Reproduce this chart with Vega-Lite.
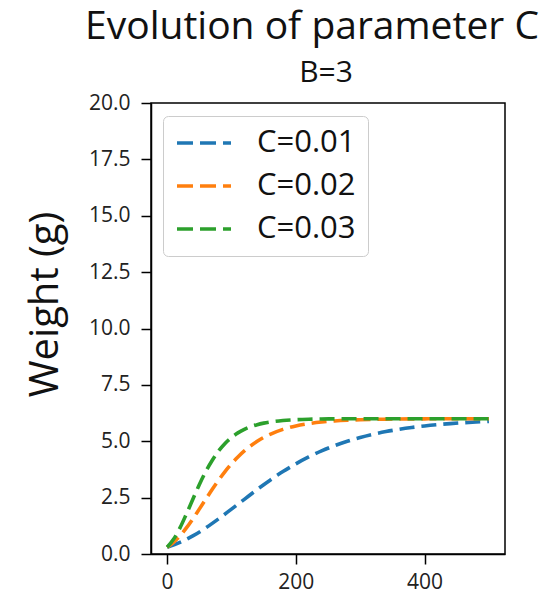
{
  "$schema": "https://vega.github.io/schema/vega-lite/v6.json",
  "background": "white",
  "padding": {"left": 24, "top": 8, "right": 0, "bottom": 0},
  "title": {
    "text": "Evolution of parameter C",
    "font": "Open Sans",
    "fontSize": 39,
    "fontWeight": "normal",
    "color": "#111111",
    "anchor": "middle",
    "frame": "group",
    "baseline": "alphabetic",
    "dx": -16,
    "offset": -21
  },
  "vconcat": [
    {
      "width": 354,
      "height": 451,
      "title": {
        "text": "B=3",
        "font": "Open Sans",
        "fontSize": 30,
        "fontWeight": "normal",
        "color": "#111111",
        "anchor": "middle",
        "frame": "group",
        "baseline": "alphabetic",
        "dx": -2,
        "offset": -20
      },
      "data": {
        "values": [
          {"t": 0, "w": 0.2987, "series": "C=0.01"},
          {"t": 20, "w": 0.5146, "series": "C=0.01"},
          {"t": 40, "w": 0.8032, "series": "C=0.01"},
          {"t": 60, "w": 1.1564, "series": "C=0.01"},
          {"t": 80, "w": 1.5586, "series": "C=0.01"},
          {"t": 100, "w": 1.99, "series": "C=0.01"},
          {"t": 120, "w": 2.4253, "series": "C=0.01"},
          {"t": 140, "w": 2.8633, "series": "C=0.01"},
          {"t": 160, "w": 3.2742, "series": "C=0.01"},
          {"t": 180, "w": 3.6541, "series": "C=0.01"},
          {"t": 200, "w": 3.9978, "series": "C=0.01"},
          {"t": 220, "w": 4.3032, "series": "C=0.01"},
          {"t": 240, "w": 4.5704, "series": "C=0.01"},
          {"t": 260, "w": 4.8015, "series": "C=0.01"},
          {"t": 280, "w": 4.9995, "series": "C=0.01"},
          {"t": 300, "w": 5.1675, "series": "C=0.01"},
          {"t": 320, "w": 5.3094, "series": "C=0.01"},
          {"t": 340, "w": 5.4284, "series": "C=0.01"},
          {"t": 360, "w": 5.5278, "series": "C=0.01"},
          {"t": 380, "w": 5.6105, "series": "C=0.01"},
          {"t": 400, "w": 5.6792, "series": "C=0.01"},
          {"t": 420, "w": 5.7361, "series": "C=0.01"},
          {"t": 440, "w": 5.783, "series": "C=0.01"},
          {"t": 460, "w": 5.8218, "series": "C=0.01"},
          {"t": 480, "w": 5.8537, "series": "C=0.01"},
          {"t": 500, "w": 5.8799, "series": "C=0.01"},

          {"t": 0, "w": 0.2987, "series": "C=0.02"},
          {"t": 10, "w": 0.5146, "series": "C=0.02"},
          {"t": 20, "w": 0.8032, "series": "C=0.02"},
          {"t": 30, "w": 1.1564, "series": "C=0.02"},
          {"t": 40, "w": 1.5586, "series": "C=0.02"},
          {"t": 50, "w": 1.99, "series": "C=0.02"},
          {"t": 60, "w": 2.4253, "series": "C=0.02"},
          {"t": 70, "w": 2.8633, "series": "C=0.02"},
          {"t": 80, "w": 3.2742, "series": "C=0.02"},
          {"t": 90, "w": 3.6541, "series": "C=0.02"},
          {"t": 100, "w": 3.9978, "series": "C=0.02"},
          {"t": 110, "w": 4.3032, "series": "C=0.02"},
          {"t": 120, "w": 4.5704, "series": "C=0.02"},
          {"t": 130, "w": 4.8015, "series": "C=0.02"},
          {"t": 140, "w": 4.9995, "series": "C=0.02"},
          {"t": 150, "w": 5.1675, "series": "C=0.02"},
          {"t": 160, "w": 5.3094, "series": "C=0.02"},
          {"t": 180, "w": 5.5278, "series": "C=0.02"},
          {"t": 200, "w": 5.6792, "series": "C=0.02"},
          {"t": 220, "w": 5.783, "series": "C=0.02"},
          {"t": 240, "w": 5.8537, "series": "C=0.02"},
          {"t": 260, "w": 5.9015, "series": "C=0.02"},
          {"t": 280, "w": 5.9338, "series": "C=0.02"},
          {"t": 300, "w": 5.9556, "series": "C=0.02"},
          {"t": 320, "w": 5.9702, "series": "C=0.02"},
          {"t": 340, "w": 5.98, "series": "C=0.02"},
          {"t": 360, "w": 5.9866, "series": "C=0.02"},
          {"t": 380, "w": 5.991, "series": "C=0.02"},
          {"t": 400, "w": 5.994, "series": "C=0.02"},
          {"t": 420, "w": 5.996, "series": "C=0.02"},
          {"t": 440, "w": 5.9973, "series": "C=0.02"},
          {"t": 460, "w": 5.9982, "series": "C=0.02"},
          {"t": 480, "w": 5.9988, "series": "C=0.02"},
          {"t": 500, "w": 5.9992, "series": "C=0.02"},

          {"t": 0, "w": 0.2987, "series": "C=0.03"},
          {"t": 10, "w": 0.6501, "series": "C=0.03"},
          {"t": 20, "w": 1.1564, "series": "C=0.03"},
          {"t": 30, "w": 1.7767, "series": "C=0.03"},
          {"t": 40, "w": 2.4253, "series": "C=0.03"},
          {"t": 50, "w": 3.0721, "series": "C=0.03"},
          {"t": 60, "w": 3.6541, "series": "C=0.03"},
          {"t": 70, "w": 4.147, "series": "C=0.03"},
          {"t": 80, "w": 4.5704, "series": "C=0.03"},
          {"t": 90, "w": 4.9045, "series": "C=0.03"},
          {"t": 100, "w": 5.1675, "series": "C=0.03"},
          {"t": 110, "w": 5.3715, "series": "C=0.03"},
          {"t": 120, "w": 5.5278, "series": "C=0.03"},
          {"t": 130, "w": 5.6465, "series": "C=0.03"},
          {"t": 140, "w": 5.7361, "series": "C=0.03"},
          {"t": 150, "w": 5.8033, "series": "C=0.03"},
          {"t": 160, "w": 5.8537, "series": "C=0.03"},
          {"t": 180, "w": 5.9192, "series": "C=0.03"},
          {"t": 200, "w": 5.9556, "series": "C=0.03"},
          {"t": 220, "w": 5.9756, "series": "C=0.03"},
          {"t": 240, "w": 5.9866, "series": "C=0.03"},
          {"t": 260, "w": 5.9926, "series": "C=0.03"},
          {"t": 280, "w": 5.996, "series": "C=0.03"},
          {"t": 300, "w": 5.9978, "series": "C=0.03"},
          {"t": 320, "w": 5.9988, "series": "C=0.03"},
          {"t": 340, "w": 5.9993, "series": "C=0.03"},
          {"t": 360, "w": 5.9996, "series": "C=0.03"},
          {"t": 380, "w": 5.9998, "series": "C=0.03"},
          {"t": 400, "w": 5.9999, "series": "C=0.03"},
          {"t": 420, "w": 6.0, "series": "C=0.03"},
          {"t": 440, "w": 6.0, "series": "C=0.03"},
          {"t": 460, "w": 6.0, "series": "C=0.03"},
          {"t": 480, "w": 6.0, "series": "C=0.03"},
          {"t": 500, "w": 6.0, "series": "C=0.03"}
        ]
      },
      "mark": {
        "type": "line",
        "interpolate": "monotone",
        "strokeWidth": 3.6,
        "strokeDash": [15, 7],
        "clip": true
      },
      "encoding": {
        "x": {
          "field": "t",
          "type": "quantitative",
          "scale": {"domain": [-25, 525], "nice": false, "zero": false},
          "axis": {
            "title": null,
            "values": [0, 200, 400],
            "format": "d",
            "labelPadding": 7
          }
        },
        "y": {
          "field": "w",
          "type": "quantitative",
          "scale": {"domain": [0, 20], "nice": false},
          "axis": {
            "title": "Weight (g)",
            "values": [0, 2.5, 5, 7.5, 10, 12.5, 15, 17.5, 20],
            "format": ".1f",
            "titleFont": "Open Sans",
            "titleFontSize": 40,
            "titleFontWeight": "normal",
            "titleColor": "#111111",
            "titleAngle": -90,
            "titleAlign": "center",
            "titleBaseline": "bottom",
            "titleX": -86,
            "titleY": 201
          }
        },
        "color": {
          "field": "series",
          "type": "nominal",
          "scale": {
            "domain": ["C=0.01", "C=0.02", "C=0.03"],
            "range": ["#1f77b4", "#ff7f0e", "#2ca02c"]
          },
          "legend": {
            "title": null,
            "orient": "none",
            "legendX": 12,
            "legendY": 13,
            "symbolType": "stroke",
            "symbolSize": 2916,
            "symbolStrokeWidth": 3.5,
            "symbolDash": [16, 7],
            "clipHeight": 30,
            "rowPadding": 12,
            "labelOffset": 24,
            "labelFont": "Open Sans",
            "labelFontSize": 31,
            "labelColor": "#111111",
            "padding": 12,
            "fillColor": "white",
            "strokeColor": "#cccccc",
            "cornerRadius": 5
          }
        }
      }
    }
  ],
  "config": {
    "font": "Open Sans",
    "view": {"stroke": "#000000", "strokeWidth": 1.5},
    "axis": {
      "grid": false,
      "domainColor": "#000000",
      "domainWidth": 1.5,
      "tickColor": "#000000",
      "tickWidth": 1.5,
      "tickSize": 10,
      "labelFont": "Open Sans",
      "labelFontSize": 21,
      "labelColor": "#222222",
      "labelPadding": 11
    }
  }
}
